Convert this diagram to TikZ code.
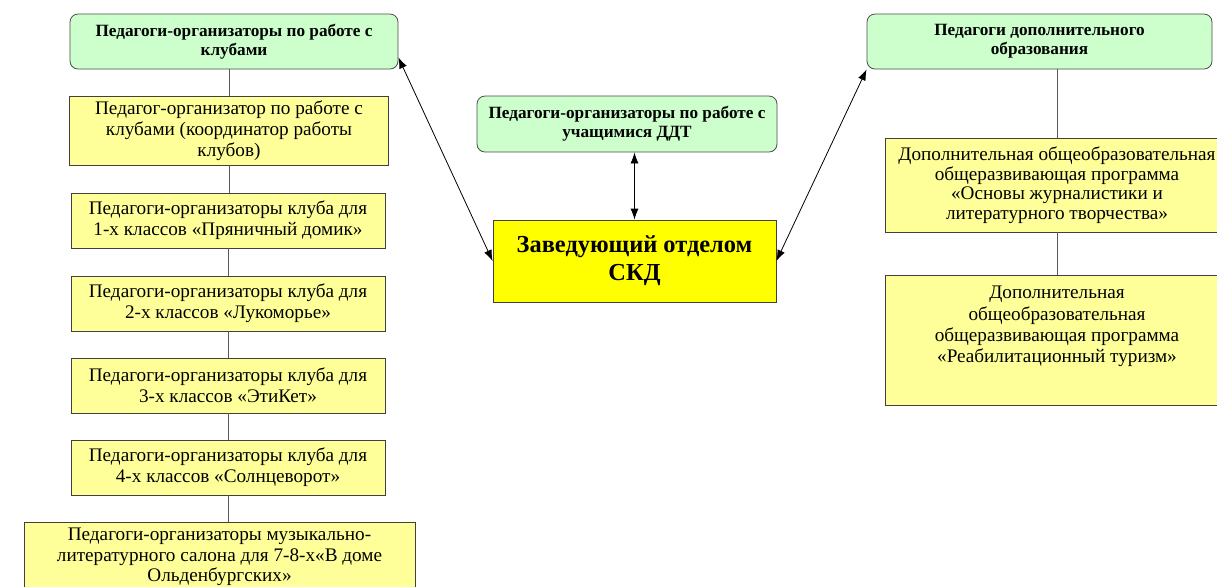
\documentclass[tikz,border=0pt]{standalone}
\usepackage{fontspec}
\setmainfont{Liberation Serif}
\usetikzlibrary{arrows.meta}
\definecolor{grn}{HTML}{CCFFCC}
\definecolor{ylw}{HTML}{FFFF99}
\definecolor{zav}{HTML}{FFFF00}

\begin{document}
\begin{tikzpicture}[x=0.5pt, y=-0.5pt,
  gbox/.style={draw=black!70, fill=grn, rounded corners=4pt, inner sep=2pt,
    align=center, font=\bfseries\fontsize{8.6}{9.6}\selectfont},
  ybox/.style={draw=black!75, fill=ylw, inner sep=2pt, align=center,
    font=\fontsize{9.6}{10.6}\selectfont},
  lnk/.style={draw=black!65},
  dbl/.style={{Latex[length=5.5pt,width=4pt]}-{Latex[length=5.5pt,width=4pt]}}]
\clip (0,0) rectangle (1217,586);
% left column
\node[gbox, minimum width=164pt, minimum height=27.5pt] (gl) at (234,41.5)
  {Педагоги-организаторы по работе с\\ клубами};
\node[ybox, minimum width=159.5pt, minimum height=34.5pt] (k0) at (229,130.5)
  {Педагог-организатор по работе с\\ клубами (координатор работы\\ клубов)};
\node[ybox, minimum width=157pt, minimum height=27.5pt] (k1) at (228,220.5)
  {Педагоги-организаторы клуба для\\ 1-х классов «Пряничный домик»};
\node[ybox, minimum width=157pt, minimum height=27.5pt] (k2) at (228,303.5)
  {Педагоги-организаторы клуба для\\ 2-х классов «Лукоморье»};
\node[ybox, minimum width=157pt, minimum height=27.5pt] (k3) at (228,385.5)
  {Педагоги-организаторы клуба для\\ 3-х классов «ЭтиКет»};
\node[ybox, minimum width=157pt, minimum height=27.5pt] (k4) at (228,467.5)
  {Педагоги-организаторы клуба для\\ 4-х классов «Солнцеворот»};
\node[ybox, minimum width=195.5pt, minimum height=35pt, inner ysep=1pt,
  font=\fontsize{9.6}{10.2}\selectfont] (k5) at (219.5,557)
  {Педагоги-организаторы музыкально-\\ литературного салона для 7-8-х«В доме\\ Ольденбургских»};
% middle
\node[gbox, minimum width=150pt, minimum height=28pt] (gm) at (627,124)
  {Педагоги-организаторы по работе с\\ учащимися ДДТ};
\node[ybox, fill=zav, minimum width=141.5pt, minimum height=41pt,
  font=\bfseries\fontsize{12.2}{14}\selectfont] (z) at (634.5,261)
  {Заведующий отделом\\ СКД};
% right column
\node[gbox, minimum width=172.5pt, minimum height=27.5pt] (gr) at (1039.5,41.5)
  {Педагоги дополнительного\\ образования};
\node[ybox, minimum width=172pt, minimum height=47pt,
  font=\fontsize{9.6}{9.75}\selectfont] (d1) at (1057,185)
  {Дополнительная общеобразовательная\\ общеразвивающая программа\\ «Основы журналистики и\\ литературного творчества»};
\node[ybox, minimum width=172pt, minimum height=65pt] (d2) at (1057,340)
  {Дополнительная\\ общеобразовательная\\ общеразвивающая программа\\ «Реабилитационный туризм»\\[5pt]\mbox{}};

\draw[lnk] (k0.north |- gl.south) -- (k0.north);
\foreach \a/\b in {k0/k1,k1/k2,k2/k3,k3/k4,k4/k5}
  \draw[lnk] (\a.south) -- (\a.south |- \b.north);
\draw[lnk] (d1.north |- gr.south) -- (d1.north);
\draw[lnk] (d1.south) -- (d2.north);

\draw[dbl] ([yshift=6pt]gl.south east) -- (z.west);
\draw[dbl] (z.east) -- (gr.south west);
\draw[dbl] (z.north) -- (z.north |- gm.south);
\end{tikzpicture}
\end{document}
